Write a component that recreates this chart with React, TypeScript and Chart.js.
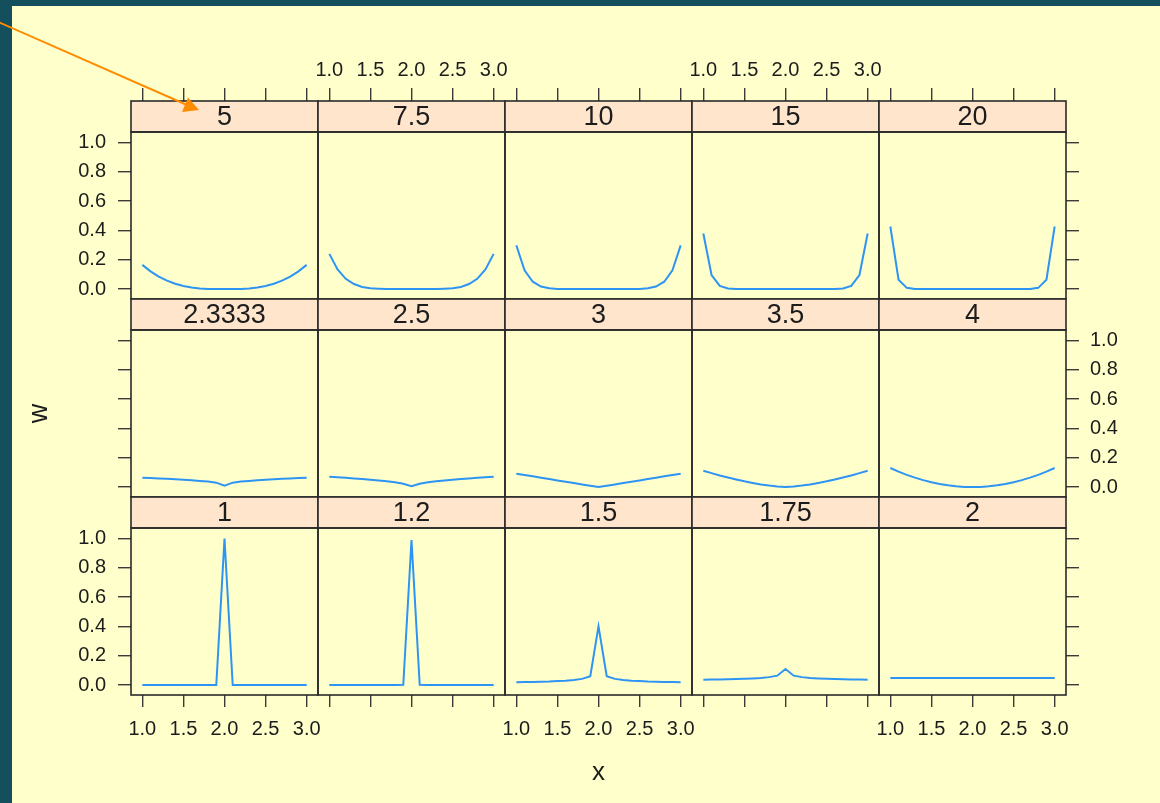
import React, { useEffect, useRef } from 'react';
import { Chart, registerables } from 'chart.js';

Chart.register(...registerables);

// ---------------- data ----------------
const X_VALUES = [1.0, 1.1, 1.2, 1.3, 1.4, 1.5, 1.6, 1.7, 1.8, 1.9, 2.0, 2.1, 2.2, 2.3, 2.4, 2.5, 2.6, 2.7, 2.8, 2.9, 3.0];
const X_TICKS = [1.0, 1.5, 2.0, 2.5, 3.0];
const Y_TICKS = [0.0, 0.2, 0.4, 0.6, 0.8, 1.0];
const PANEL_LABELS = ['5', '7.5', '10', '15', '20', '2.3333', '2.5', '3', '3.5', '4', '1', '1.2', '1.5', '1.75', '2'];

const W_5 = [0.165, 0.121, 0.085, 0.057, 0.036, 0.021, 0.011, 0.004, 0.001, 0.000, 0.000, 0.000, 0.001, 0.004, 0.011, 0.021, 0.036, 0.057, 0.085, 0.121, 0.165];
const W_7_5 = [0.240, 0.134, 0.070, 0.034, 0.014, 0.005, 0.002, 0.000, 0.000, 0.000, 0.000, 0.000, 0.000, 0.000, 0.002, 0.005, 0.014, 0.034, 0.070, 0.134, 0.240];
const W_10 = [0.298, 0.128, 0.050, 0.017, 0.005, 0.001, 0.000, 0.000, 0.000, 0.000, 0.000, 0.000, 0.000, 0.000, 0.000, 0.001, 0.005, 0.017, 0.050, 0.128, 0.298];
const W_15 = [0.379, 0.096, 0.021, 0.004, 0.001, 0.000, 0.000, 0.000, 0.000, 0.000, 0.000, 0.000, 0.000, 0.000, 0.000, 0.000, 0.001, 0.004, 0.021, 0.096, 0.379];
const W_20 = [0.427, 0.064, 0.008, 0.001, 0.000, 0.000, 0.000, 0.000, 0.000, 0.000, 0.000, 0.000, 0.000, 0.000, 0.000, 0.000, 0.000, 0.001, 0.008, 0.064, 0.427];
const W_2_3333 = [0.064, 0.061, 0.059, 0.056, 0.054, 0.050, 0.047, 0.042, 0.037, 0.030, 0.010, 0.030, 0.037, 0.042, 0.047, 0.050, 0.054, 0.056, 0.059, 0.061, 0.064];
const W_2_5 = [0.070, 0.067, 0.063, 0.059, 0.055, 0.050, 0.045, 0.039, 0.032, 0.022, 0.005, 0.022, 0.032, 0.039, 0.045, 0.050, 0.055, 0.059, 0.063, 0.067, 0.070];
const W_3 = [0.091, 0.082, 0.073, 0.064, 0.055, 0.045, 0.036, 0.027, 0.018, 0.009, 0.000, 0.009, 0.018, 0.027, 0.036, 0.045, 0.055, 0.064, 0.073, 0.082, 0.091];
const W_3_5 = [0.111, 0.095, 0.079, 0.065, 0.052, 0.039, 0.028, 0.018, 0.010, 0.004, 0.000, 0.004, 0.010, 0.018, 0.028, 0.039, 0.052, 0.065, 0.079, 0.095, 0.111];
const W_4 = [0.130, 0.105, 0.083, 0.064, 0.047, 0.033, 0.021, 0.012, 0.005, 0.001, 0.000, 0.001, 0.005, 0.012, 0.021, 0.033, 0.047, 0.064, 0.083, 0.105, 0.130];
const W_1 = [0.000, 0.000, 0.000, 0.000, 0.000, 0.000, 0.000, 0.000, 0.000, 0.000, 1.000, 0.000, 0.000, 0.000, 0.000, 0.000, 0.000, 0.000, 0.000, 0.000, 0.000];
const W_1_2 = [0.000, 0.000, 0.000, 0.000, 0.000, 0.000, 0.000, 0.000, 0.001, 0.002, 0.990, 0.002, 0.001, 0.000, 0.000, 0.000, 0.000, 0.000, 0.000, 0.000, 0.000];
const W_1_5 = [0.019, 0.020, 0.021, 0.023, 0.024, 0.027, 0.030, 0.035, 0.042, 0.060, 0.400, 0.060, 0.042, 0.035, 0.030, 0.027, 0.024, 0.023, 0.021, 0.020, 0.019];
const W_1_75 = [0.036, 0.037, 0.038, 0.039, 0.041, 0.043, 0.045, 0.048, 0.054, 0.064, 0.110, 0.064, 0.054, 0.048, 0.045, 0.043, 0.041, 0.039, 0.038, 0.037, 0.036];
const W_2 = [0.048, 0.048, 0.048, 0.048, 0.048, 0.048, 0.048, 0.048, 0.048, 0.048, 0.048, 0.048, 0.048, 0.048, 0.048, 0.048, 0.048, 0.048, 0.048, 0.048, 0.048];

const SERIES = [W_5, W_7_5, W_10, W_15, W_20, W_2_3333, W_2_5, W_3, W_3_5, W_4, W_1, W_1_2, W_1_5, W_1_75, W_2];

// ---------------- layout / style ----------------
const W = 1160;
const H = 803;
const COL0 = 131;
const COLW = 187;
const ROW0 = 101;
const ROWH = 198;
const STRIP_H = 31;
const PANEL_H = 167;
const X_MIN = 0.862;
const X_MAX = 3.138;
const Y_MIN = -0.068;
const Y_MAX = 1.072;
const TOP_AXIS_H = 60;
const BOTTOM_AXIS_H = 60;
const LEFT_AXIS_W = 60;
const RIGHT_AXIS_W = 60;

const FONT = '"Liberation Sans", Arial, Helvetica, sans-serif';
const TEXT = '#1c1c1c';
const AXIS = '#3a3a3a';
const BORDER = '#2a2a2a';
const STRIP_BG = '#ffe5cc';
const LINE = '#2e94f4';

function tickGrid(len: number) {
  return { display: true, drawOnChartArea: false, drawTicks: true, tickLength: len, color: AXIS, lineWidth: 1.4 };
}

function makeConfig(i: number): any {
  const r = Math.floor(i / 5);
  const c = i % 5;
  const left = COL0 + c * COLW;
  const right = left + COLW;
  const stripTop = ROW0 + r * ROWH;
  const top = stripTop + STRIP_H;
  const bottom = top + PANEL_H;
  const hasTop = r === 0;
  const hasBottom = r === 2;
  const hasLeft = c === 0;
  const hasRight = c === 4;

  const padding = {
    top: hasTop ? stripTop - TOP_AXIS_H : stripTop,
    bottom: hasBottom ? H - bottom - BOTTOM_AXIS_H : H - bottom,
    left: hasLeft ? left - LEFT_AXIS_W : left,
    right: hasRight ? W - right - RIGHT_AXIS_W : W - right,
  };

  const xTicks = (s: any) => { s.ticks = X_TICKS.map((v) => ({ value: v })); };
  const yTicks = (s: any) => { s.ticks = Y_TICKS.map((v) => ({ value: v })); };
  const tickFont = { family: FONT, size: 20 };
  const fmt = (v: any) => Number(v).toFixed(1);

  const scales: any = {
    x: {
      type: 'linear', position: 'bottom', min: X_MIN, max: X_MAX, display: hasBottom,
      afterBuildTicks: xTicks,
      grid: tickGrid(12), border: { display: false },
      ticks: { display: c % 2 === 0, autoSkip: false, maxRotation: 0, minRotation: 0, padding: 10, color: TEXT, font: tickFont, callback: fmt },
    },
    strip: {
      type: 'linear', position: 'top', weight: 1, min: 0, max: 1, display: true,
      grid: { display: false }, border: { display: false }, ticks: { display: false },
      afterFit: (s: any) => { s.height = STRIP_H; },
    },
    x2: {
      type: 'linear', position: 'top', weight: 2, min: X_MIN, max: X_MAX, display: hasTop,
      afterBuildTicks: xTicks,
      grid: tickGrid(13), border: { display: false },
      ticks: { display: c % 2 === 1, autoSkip: false, maxRotation: 0, minRotation: 0, padding: 6, color: TEXT, font: tickFont, callback: fmt },
    },
    y: {
      type: 'linear', position: 'left', min: Y_MIN, max: Y_MAX, display: hasLeft,
      afterBuildTicks: yTicks,
      grid: tickGrid(13), border: { display: false },
      ticks: { display: r !== 1, autoSkip: false, padding: 12, color: TEXT, font: tickFont, callback: fmt },
    },
    y2: {
      type: 'linear', position: 'right', min: Y_MIN, max: Y_MAX, display: hasRight,
      afterBuildTicks: yTicks,
      grid: tickGrid(13), border: { display: false },
      ticks: { display: r === 1, autoSkip: false, padding: 11, color: TEXT, font: tickFont, callback: fmt },
    },
  };
  if (hasBottom) scales.x.afterFit = (s: any) => { s.height = BOTTOM_AXIS_H; };
  if (hasTop) scales.x2.afterFit = (s: any) => { s.height = TOP_AXIS_H; };
  if (hasLeft) scales.y.afterFit = (s: any) => { s.width = LEFT_AXIS_W; };
  if (hasRight) scales.y2.afterFit = (s: any) => { s.width = RIGHT_AXIS_W; };

  const deco = {
    id: 'latticeDeco' + i,
    beforeDatasetsDraw(chart: any) {
      const { ctx, chartArea } = chart;
      const st = chart.scales.strip;
      ctx.save();
      ctx.fillStyle = STRIP_BG;
      ctx.fillRect(chartArea.left, st.top, chartArea.right - chartArea.left, st.bottom - st.top);
      ctx.restore();
    },
    afterDatasetsDraw(chart: any) {
      const { ctx, chartArea } = chart;
      const st = chart.scales.strip;
      ctx.save();
      ctx.strokeStyle = BORDER;
      ctx.lineWidth = 1.6;
      ctx.strokeRect(chartArea.left, st.top, chartArea.right - chartArea.left, st.bottom - st.top);
      ctx.strokeRect(chartArea.left, chartArea.top, chartArea.right - chartArea.left, chartArea.bottom - chartArea.top);
      ctx.fillStyle = TEXT;
      ctx.font = `27px ${FONT}`;
      ctx.textAlign = 'center';
      ctx.textBaseline = 'middle';
      ctx.fillText(PANEL_LABELS[i], (chartArea.left + chartArea.right) / 2, (st.top + st.bottom) / 2 + 1);

      if (i === 5) {
        ctx.save();
        ctx.translate(40, (chartArea.top + chartArea.bottom) / 2);
        ctx.rotate(-Math.PI / 2);
        ctx.font = `27px ${FONT}`;
        ctx.fillText('w', 0, 0);
        ctx.restore();
      }
      if (i === 12) {
        ctx.font = `26px ${FONT}`;
        ctx.fillText('x', (chartArea.left + chartArea.right) / 2, 773);
      }
      ctx.restore();
    },
  };

  return {
    type: 'line',
    data: {
      datasets: [
        {
          data: X_VALUES.map((x, j) => ({ x, y: SERIES[i][j] })),
          borderColor: LINE,
          borderWidth: 2,
          pointRadius: 0,
          tension: 0,
          fill: false,
          xAxisID: 'x',
          yAxisID: 'y',
        },
      ],
    },
    options: {
      animation: false,
      responsive: false,
      devicePixelRatio: 1,
      layout: { padding },
      plugins: { legend: { display: false }, title: { display: false }, tooltip: { enabled: false } },
      events: [],
      scales,
    },
    plugins: [deco],
  };
}

function Panel({ index }: { index: number }) {
  const ref = useRef<HTMLCanvasElement>(null);
  useEffect(() => {
    const chart = new Chart(ref.current as HTMLCanvasElement, makeConfig(index));
    return () => chart.destroy();
  }, [index]);
  return (
    <canvas
      ref={ref}
      width={W}
      height={H}
      style={{ position: 'absolute', left: 0, top: 0, width: W, height: H }}
    />
  );
}

function Arrow() {
  const ref = useRef<HTMLCanvasElement>(null);
  useEffect(() => {
    const ctx = (ref.current as HTMLCanvasElement).getContext('2d') as CanvasRenderingContext2D;
    ctx.clearRect(0, 0, W, H);
    ctx.strokeStyle = '#ff8c00';
    ctx.fillStyle = '#ff8c00';
    ctx.lineWidth = 2;
    ctx.beginPath();
    ctx.moveTo(-4, 21);
    ctx.lineTo(187, 105);
    ctx.stroke();
    ctx.beginPath();
    ctx.moveTo(199, 110);
    ctx.lineTo(188, 97.5);
    ctx.lineTo(182, 112);
    ctx.closePath();
    ctx.fill();
  }, []);
  return (
    <canvas
      ref={ref}
      width={W}
      height={H}
      style={{ position: 'absolute', left: 0, top: 0, width: W, height: H }}
    />
  );
}

export default function App() {
  return (
    <div style={{ position: 'absolute', left: 0, top: 0, width: W, height: H, background: '#134f5d', overflow: 'hidden' }}>
      <div style={{ position: 'absolute', left: 12, top: 6, right: 0, bottom: 0, background: '#ffffcc' }} />
      {PANEL_LABELS.map((_, i) => (
        <Panel key={i} index={i} />
      ))}
      <Arrow />
    </div>
  );
}
